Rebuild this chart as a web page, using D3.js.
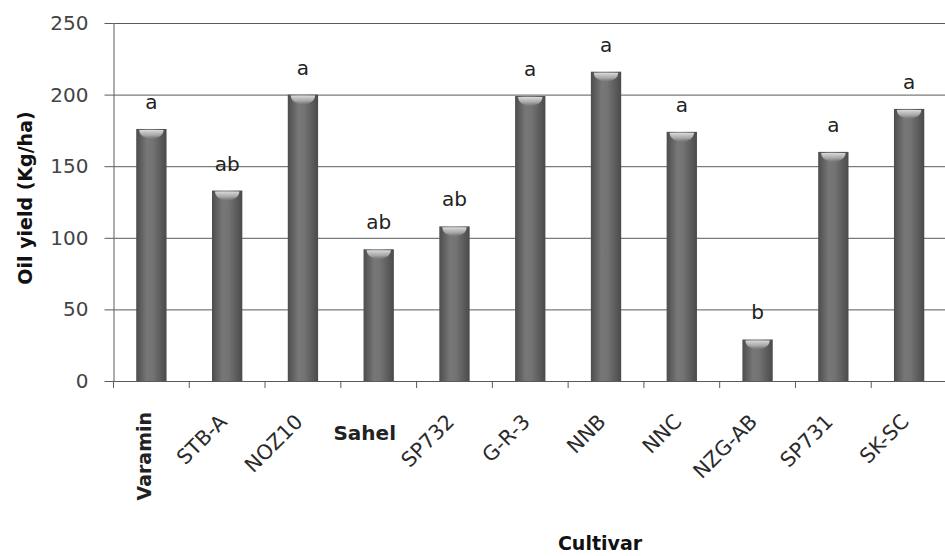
<!DOCTYPE html>
<html>
<head>
<meta charset="utf-8">
<script src="https://cdn.jsdelivr.net/npm/d3@7"></script>
<style>
  body { margin: 0; background: #fff; }
  svg { display: block; }
</style>
</head>
<body>
<div class="chart"></div>
<script>
// values
const cultivars = ['Varamin', 'STB-A', 'NOZ10', 'Sahel', 'SP732', 'G-R-3', 'NNB', 'NNC', 'NZG-AB', 'SP731', 'SK-SC']
const oilYield = [176, 133, 200, 92, 108, 199, 216, 174, 29, 160, 190]
const letters = ['a', 'ab', 'a', 'ab', 'ab', 'a', 'a', 'a', 'b', 'a', 'a']
const yTicks = [0, 50, 100, 150, 200, 250]

const data = cultivars.map((c, i) => ({cultivar: c, value: oilYield[i], letter: letters[i]}))

const width = 945
const height = 556
const plotLeft = 113.5, plotRight = 947, plotTop = 23, plotBottom = 381

const svg = d3.select('.chart').append('svg').attr('width', width).attr('height', height)

const x = d3.scaleBand().domain(cultivars).range([plotLeft, plotRight]).paddingInner(0.6).paddingOuter(0.3)
const y = d3.scaleLinear().domain([0, 250]).range([plotBottom, plotTop])

// cylinder-ish shading for the bars
const defs = svg.append('defs')
const grad = defs.append('linearGradient').attr('id', 'barGrad').attr('x1', 0).attr('x2', 1).attr('y1', 0).attr('y2', 0)
grad.append('stop').attr('offset', '0%').attr('stop-color', '#4c4c4c')
grad.append('stop').attr('offset', '35%').attr('stop-color', '#777')
grad.append('stop').attr('offset', '55%').attr('stop-color', '#737373')
grad.append('stop').attr('offset', '100%').attr('stop-color', '#4a4a4a')
const cap = defs.append('linearGradient').attr('id', 'capGrad').attr('x1', 0).attr('x2', 0).attr('y1', 0).attr('y2', 1)
cap.append('stop').attr('offset', '0%').attr('stop-color', '#dcdcdc').attr('stop-opacity', 1)
cap.append('stop').attr('offset', '60%').attr('stop-color', '#b4b4b4').attr('stop-opacity', 0.8)
cap.append('stop').attr('offset', '100%').attr('stop-color', '#8a8a8a').attr('stop-opacity', 0.2)

// gridlines + y axis
svg.append('g')
    .attr('transform', `translate(${plotLeft},0)`)
    .call(d3.axisLeft(y).tickValues(yTicks).tickSize(-(width - plotLeft)).tickFormat(''))
    .call(g => g.select('.domain').remove())
    .call(g => g.selectAll('line').attr('stroke', '#5a5a5a'))

const yAxis = svg.append('g')
    .attr('transform', `translate(${plotLeft},0)`)
    .call(d3.axisLeft(y).tickValues(yTicks).tickSizeInner(9).tickSizeOuter(0).tickPadding(16))
yAxis.select('.domain').attr('stroke', '#5a5a5a')
yAxis.selectAll('line').attr('stroke', '#5a5a5a')
yAxis.selectAll('text')
    .attr('font-family', 'DejaVu Sans')
    .attr('font-size', 20)
    .attr('fill', '#444')

// bars
svg.selectAll('rect.bar')
    .data(data)
    .enter()
    .append('rect')
    .attr('class', 'bar')
    .attr('x', d => x(d.cultivar))
    .attr('y', d => y(d.value))
    .attr('width', x.bandwidth())
    .attr('height', d => y(0) - y(d.value))
    .attr('fill', 'url(#barGrad)')
// light half-ellipse at the top of each bar
svg.selectAll('path.cap')
    .data(data)
    .enter()
    .append('path')
    .attr('class', 'cap')
    .attr('d', d => {
        const x0 = x(d.cultivar) + 3, x1 = x(d.cultivar) + x.bandwidth() - 3, t = y(d.value) + 1
        return `M${x0},${t} A${(x1 - x0) / 2},9 0 0 0 ${x1},${t} Z`
    })
    .attr('fill', 'url(#capGrad)')

// letters above the bars
svg.selectAll('text.letter')
    .data(data)
    .enter()
    .append('text')
    .attr('class', 'letter')
    .attr('x', d => x(d.cultivar) + x.bandwidth() / 2)
    .attr('y', d => y(d.value) - 20)
    .attr('text-anchor', 'middle')
    .attr('font-family', 'DejaVu Sans')
    .attr('font-size', 20)
    .attr('fill', '#222')
    .text(d => d.letter)

// x axis line with ticks at band edges
const xAxis = svg.append('g')
    .attr('transform', `translate(0,${plotBottom})`)
    .call(d3.axisBottom(x).tickSize(0).tickFormat(''))
xAxis.select('.domain').attr('stroke', '#5a5a5a')
const edges = d3.range(cultivars.length + 1).map(i => plotLeft + i * x.step())
xAxis.selectAll('line.edge')
    .data(edges)
    .enter()
    .append('line')
    .attr('class', 'edge')
    .attr('x1', d => d).attr('x2', d => d)
    .attr('y1', 0).attr('y2', 7)
    .attr('stroke', '#5a5a5a')

// category labels (two are set differently in the original figure)
const labels = svg.append('g')
data.forEach(d => {
    const cx = x(d.cultivar) + x.bandwidth() / 2
    if (d.cultivar === 'Varamin') {
        labels.append('text')
            .attr('transform', `translate(${cx},${412}) rotate(-90)`)
            .attr('text-anchor', 'end')
            .attr('font-family', 'DejaVu Sans')
            .attr('font-weight', 'bold')
            .attr('font-size', 19)
            .attr('fill', '#222')
            .text(d.cultivar)
    } else if (d.cultivar === 'Sahel') {
        labels.append('text')
            .attr('x', cx - 14)
            .attr('y', 440)
            .attr('text-anchor', 'middle')
            .attr('font-family', 'DejaVu Sans')
            .attr('font-weight', 'bold')
            .attr('font-size', 20)
            .attr('fill', '#222')
            .text(d.cultivar)
    } else {
        labels.append('text')
            .attr('transform', `translate(${cx + 1},${423}) rotate(-45)`)
            .attr('text-anchor', 'end')
            .attr('font-family', 'DejaVu Sans')
            .attr('font-size', 20.5)
            .attr('fill', '#2a2a2a')
            .text(d.cultivar)
    }
})

// axis titles
svg.append('text')
    .attr('transform', `translate(32,${198}) rotate(-90)`)
    .attr('text-anchor', 'middle')
    .attr('font-family', 'DejaVu Sans')
    .attr('font-weight', 'bold')
    .attr('font-size', 19)
    .attr('fill', '#111')
    .text('Oil yield (Kg/ha)')

svg.append('text')
    .attr('x', 600)
    .attr('y', 550)
    .attr('text-anchor', 'middle')
    .attr('font-family', 'DejaVu Sans')
    .attr('font-weight', 'bold')
    .attr('font-size', 19)
    .attr('fill', '#111')
    .text('Cultivar')
</script>
</body>
</html>
